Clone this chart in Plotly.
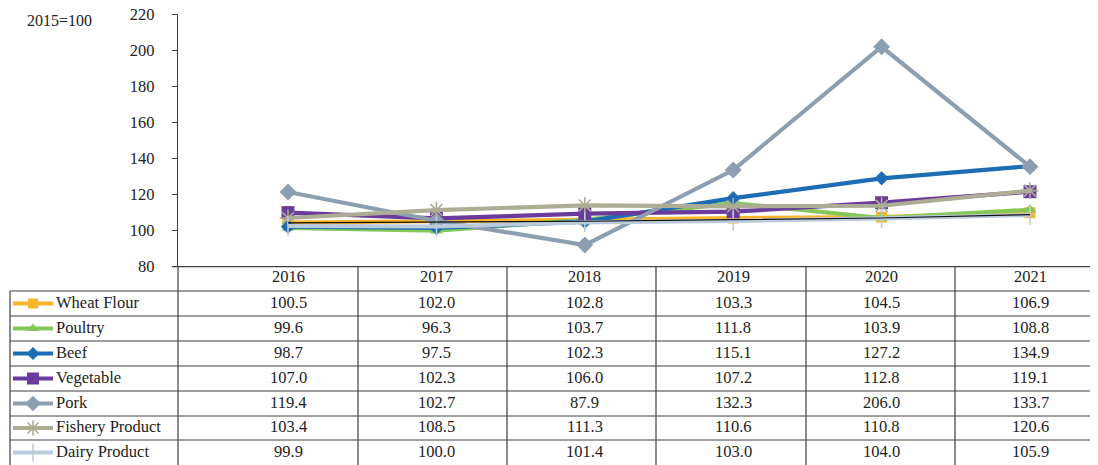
import plotly.graph_objects as go

PAGE_W, PAGE_H = 1098, 465
OFF = 8  # browser body margin
W, H = PAGE_W - OFF, PAGE_H - OFF

years = [2016, 2017, 2018, 2019, 2020, 2021]
series_names = ["Wheat Flour", "Poultry", "Beef", "Vegetable", "Pork", "Fishery Product", "Dairy Product"]

# values as plotted on the chart
plot_wheat = [104.5, 105.0, 106.0, 107.0, 107.5, 110.0]
plot_poultry = [101.5, 100.0, 106.0, 115.3, 107.0, 111.6]
plot_beef = [102.2, 101.5, 105.0, 118.0, 129.0, 135.8]
plot_veg = [110.0, 106.8, 109.4, 110.5, 115.5, 121.6]
plot_pork = [121.4, 105.5, 92.0, 133.6, 202.0, 135.5]
plot_fish = [107.0, 111.4, 114.0, 113.5, 113.8, 122.2]
plot_dairy = [102.6, 102.3, 104.6, 105.4, 106.8, 108.7]
plot_black = [104.3, 104.6, 105.2, 106.1, 107.0, 108.9]

# values printed in the data table
tbl_wheat = ["100.5", "102.0", "102.8", "103.3", "104.5", "106.9"]
tbl_poultry = ["99.6", "96.3", "103.7", "111.8", "103.9", "108.8"]
tbl_beef = ["98.7", "97.5", "102.3", "115.1", "127.2", "134.9"]
tbl_veg = ["107.0", "102.3", "106.0", "107.2", "112.8", "119.1"]
tbl_pork = ["119.4", "102.7", "87.9", "132.3", "206.0", "133.7"]
tbl_fish = ["103.4", "108.5", "111.3", "110.6", "110.8", "120.6"]
tbl_dairy = ["99.9", "100.0", "101.4", "103.0", "104.0", "105.9"]

y_ticks = [80, 100, 120, 140, 160, 180, 200, 220]

plot_values = [plot_wheat, plot_poultry, plot_beef, plot_veg, plot_pork, plot_fish, plot_dairy]
table_values = [tbl_wheat, tbl_poultry, tbl_beef, tbl_veg, tbl_pork, tbl_fish, tbl_dairy]

colors = ["#F7B52C", "#86C75A", "#1C6DB4", "#6A3A9C", "#8E9EB1", "#ADAC95", "#BACBDB"]
symbols = ["square", "triangle-up", "diamond", "square", "diamond", "asterisk-open", "line-ns-open"]
msizes = [11, 11, 11, 13, 13, 14, 14]

FONT = "Liberation Serif"
TXT = "#222222"
LINEC = "#404040"
FS = 16.5

# layout geometry (page pixels; converted to figure pixels with OFF)
plot_left, plot_right, plot_top, plot_bottom = 178, PAGE_W, 14.3, 266.7
x0_px, dx_px = 288, 148.4
row_lines = [291, 316, 341, 366, 391, 416, 440]
col_lines = [358, 507, 656, 806, 955]

def fx(p):
    return p - OFF

def col_center(i):
    return fx(x0_px + dx_px * i)

def row_center(r):
    nxt = row_lines[r + 1] if r + 1 < len(row_lines) else PAGE_H
    return fx((row_lines[r] + nxt) / 2)

xr = [years[0] + (plot_left - x0_px) / dx_px, years[0] + (plot_right - x0_px) / dx_px]

fig = go.Figure()

for i in range(len(series_names)):
    mlw = 1.6 if symbols[i] in ("asterisk-open", "line-ns-open") else 0
    fig.add_trace(go.Scatter(
        x=years, y=plot_values[i], mode="lines+markers", name=series_names[i],
        line=dict(color=colors[i], width=4.2),
        marker=dict(symbol=symbols[i], size=msizes[i], color=colors[i],
                    line=dict(width=mlw, color=colors[i])),
        showlegend=False, xaxis="x", yaxis="y", cliponaxis=False))
fig.add_trace(go.Scatter(x=years, y=plot_black, mode="lines",
                         line=dict(color="#111111", width=1.2),
                         showlegend=False, xaxis="x", yaxis="y"))

# legend samples in the table (pixel overlay axes)
for r in range(len(series_names)):
    yc = row_center(r)
    mlw = 1.6 if symbols[r] in ("asterisk-open", "line-ns-open") else 0
    fig.add_trace(go.Scatter(x=[fx(13), fx(33), fx(53)], y=[yc, yc, yc], mode="lines",
                             line=dict(color=colors[r], width=4.2),
                             showlegend=False, xaxis="x2", yaxis="y2"))
    fig.add_trace(go.Scatter(x=[fx(33)], y=[yc], mode="markers",
                             marker=dict(symbol=symbols[r], size=msizes[r] - 1, color=colors[r],
                                         line=dict(width=mlw, color=colors[r])),
                             showlegend=False, xaxis="x2", yaxis="y2"))

shapes = []
def hline(y, xa, xb):
    shapes.append(dict(type="line", xref="x2", yref="y2", x0=fx(xa), x1=fx(xb), y0=fx(y), y1=fx(y),
                       line=dict(color=LINEC, width=1.2)))
def vline(x, ya, yb):
    shapes.append(dict(type="line", xref="x2", yref="y2", x0=fx(x), x1=fx(x), y0=fx(ya), y1=fx(yb),
                       line=dict(color=LINEC, width=1.2)))

hline(plot_bottom, 172, PAGE_W)
for y in row_lines:
    hline(y, 10, PAGE_W)
vline(10, row_lines[0], PAGE_H)
vline(plot_left, plot_bottom, PAGE_H)
for x in col_lines:
    vline(x, plot_bottom, PAGE_H)

annotations = []
for j, yr in enumerate(years):
    annotations.append(dict(x=col_center(j), y=fx((plot_bottom + row_lines[0]) / 2 - 2), xref="x2", yref="y2",
                            text=str(yr), showarrow=False, font=dict(family=FONT, size=FS, color=TXT)))
for r in range(len(series_names)):
    yc = row_center(r) - 1.5
    annotations.append(dict(x=fx(54), y=yc, xref="x2", yref="y2", xanchor="left",
                            text=series_names[r], showarrow=False,
                            font=dict(family=FONT, size=FS, color=TXT)))
    for j in range(len(years)):
        annotations.append(dict(x=col_center(j), y=yc, xref="x2", yref="y2",
                                text=table_values[r][j], showarrow=False,
                                font=dict(family=FONT, size=FS, color=TXT)))
annotations.append(dict(x=fx(25), y=fx(20), xref="x2", yref="y2", xanchor="left",
                        text="2015=100", showarrow=False, font=dict(family=FONT, size=16, color=TXT)))

fig.update_layout(
    width=W, height=H,
    margin=dict(l=0, r=0, t=0, b=0, autoexpand=False),
    paper_bgcolor="white", plot_bgcolor="rgba(0,0,0,0)",
    showlegend=False,
    font=dict(family=FONT, color=TXT),
    xaxis=dict(domain=[fx(plot_left) / W, 1], range=xr, showgrid=False, zeroline=False,
               showticklabels=False, showline=False, ticks="", automargin=False),
    yaxis=dict(domain=[(H - fx(plot_bottom)) / H, (H - fx(plot_top)) / H], range=[80, 220],
               tickvals=y_ticks, showgrid=False, zeroline=False, showline=True,
               linecolor=LINEC, linewidth=1.2, ticks="outside", ticklen=5, tickcolor=LINEC,
               tickwidth=1.2, ticklabelstandoff=14, automargin=False, ticklabeloverflow="allow",
               tickfont=dict(family=FONT, size=16.5, color=TXT)),
    xaxis2=dict(domain=[0, 1], range=[0, W], visible=False, anchor="y2", automargin=False),
    yaxis2=dict(domain=[0, 1], range=[H, 0], visible=False, anchor="x2", automargin=False),
    shapes=shapes, annotations=annotations,
)

fig.write_html("out.html")
